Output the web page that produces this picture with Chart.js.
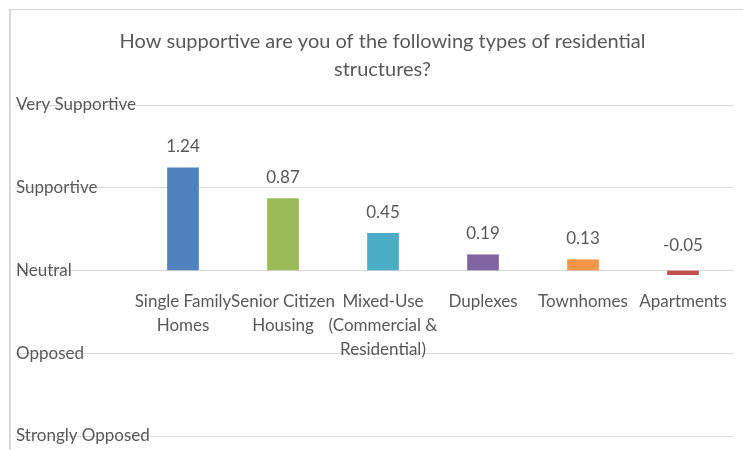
<!DOCTYPE html>
<html>
<head>
<meta charset="utf-8">
<script src="https://cdn.jsdelivr.net/npm/chart.js@4/dist/chart.umd.min.js"></script>
<style>
  html, body { margin: 0; padding: 0; background: #ffffff; overflow: hidden; }
  canvas { display: block; }
</style>
</head>
<body>
<canvas id="chart" width="743" height="450"></canvas>
<script>
// Survey: support for residential structure types (scale -2 .. 2)
const titleLines = [
  'How supportive are you of the following types of residential',
  'structures?'
];
const categories = [
  ['Single Family', 'Homes'],
  ['Senior Citizen', 'Housing'],
  ['Mixed-Use', '(Commercial &', 'Residential)'],
  ['Duplexes'],
  ['Townhomes'],
  ['Apartments']
];
const supportScores = [1.24, 0.87, 0.45, 0.19, 0.13, -0.05];
const barColors = ['#4F81BD', '#9BBB59', '#4BACC6', '#8064A2', '#F79646', '#C0504D'];
const scaleLabels = ['Strongly Opposed', 'Opposed', 'Neutral', 'Supportive', 'Very Supportive'];
const scaleMin = -2;
const scaleMax = 2;

const TEXT = '#595959';
const GRID = '#d9d9d9';
const FONT = 'Lato, "Open Sans", sans-serif';
const AXIS_WIDTH = 118;

// Outer frame of the chart
const framePlugin = {
  id: 'frame',
  beforeDraw(chart) {
    const ctx = chart.ctx;
    ctx.save();
    ctx.fillStyle = GRID;
    ctx.fillRect(9, 9, chart.width - 9, 1);
    ctx.fillRect(9, 9, 2, chart.height - 9);
    ctx.restore();
  }
};

// Two-line heading
const headingPlugin = {
  id: 'heading',
  afterDraw(chart) {
    const ctx = chart.ctx;
    ctx.save();
    ctx.fillStyle = TEXT;
    ctx.font = '20px ' + FONT;
    ctx.textAlign = 'center';
    ctx.textBaseline = 'middle';
    titleLines.forEach((line, i) => ctx.fillText(line, 382.5, 42 + i * 28));
    ctx.restore();
  }
};

// Value labels above each bar
const valueLabelPlugin = {
  id: 'valueLabels',
  afterDatasetsDraw(chart) {
    const ctx = chart.ctx;
    const meta = chart.getDatasetMeta(0);
    const data = chart.data.datasets[0].data;
    ctx.save();
    ctx.fillStyle = TEXT;
    ctx.font = '17px ' + FONT;
    ctx.textAlign = 'center';
    ctx.textBaseline = 'middle';
    meta.data.forEach((bar, i) => {
      const v = data[i];
      const top = Math.min(bar.y, bar.base);
      ctx.fillText(v.toFixed(2), bar.x, top - (v < 0 ? 25 : 21));
    });
    ctx.restore();
  }
};

new Chart(document.getElementById('chart'), {
  type: 'bar',
  data: {
    labels: categories,
    datasets: [{
      data: supportScores,
      backgroundColor: barColors,
      borderWidth: 0,
      barThickness: 31
    }]
  },
  options: {
    responsive: false,
    animation: false,
    layout: { padding: { top: 105, bottom: 14, left: 15, right: 10 } },
    plugins: {
      legend: { display: false },
      title: { display: false },
      tooltip: { enabled: false }
    },
    scales: {
      x: {
        position: { y: 0 },
        afterFit(scale) { scale.height = 0; },
        grid: { display: false },
        border: { display: false },
        ticks: {
          color: TEXT,
          font: { family: FONT, size: 17, lineHeight: 1.41 },
          padding: 11,
          autoSkip: false,
          maxRotation: 0,
          minRotation: 0
        }
      },
      y: {
        min: scaleMin,
        max: scaleMax,
        afterFit(scale) { scale.width = AXIS_WIDTH; },
        border: { display: false },
        grid: {
          color: GRID,
          lineWidth: 1,
          drawTicks: true,
          tickLength: AXIS_WIDTH,
          tickColor: GRID
        },
        ticks: {
          stepSize: 1,
          // labels sit at the far left and run over the grid lines
          mirror: true,
          crossAlign: 'near',
          padding: 1 - AXIS_WIDTH,
          color: TEXT,
          font: { family: FONT, size: 17 },
          callback: (value) => scaleLabels[value - scaleMin]
        }
      }
    }
  },
  plugins: [framePlugin, headingPlugin, valueLabelPlugin]
});
</script>
</body>
</html>
